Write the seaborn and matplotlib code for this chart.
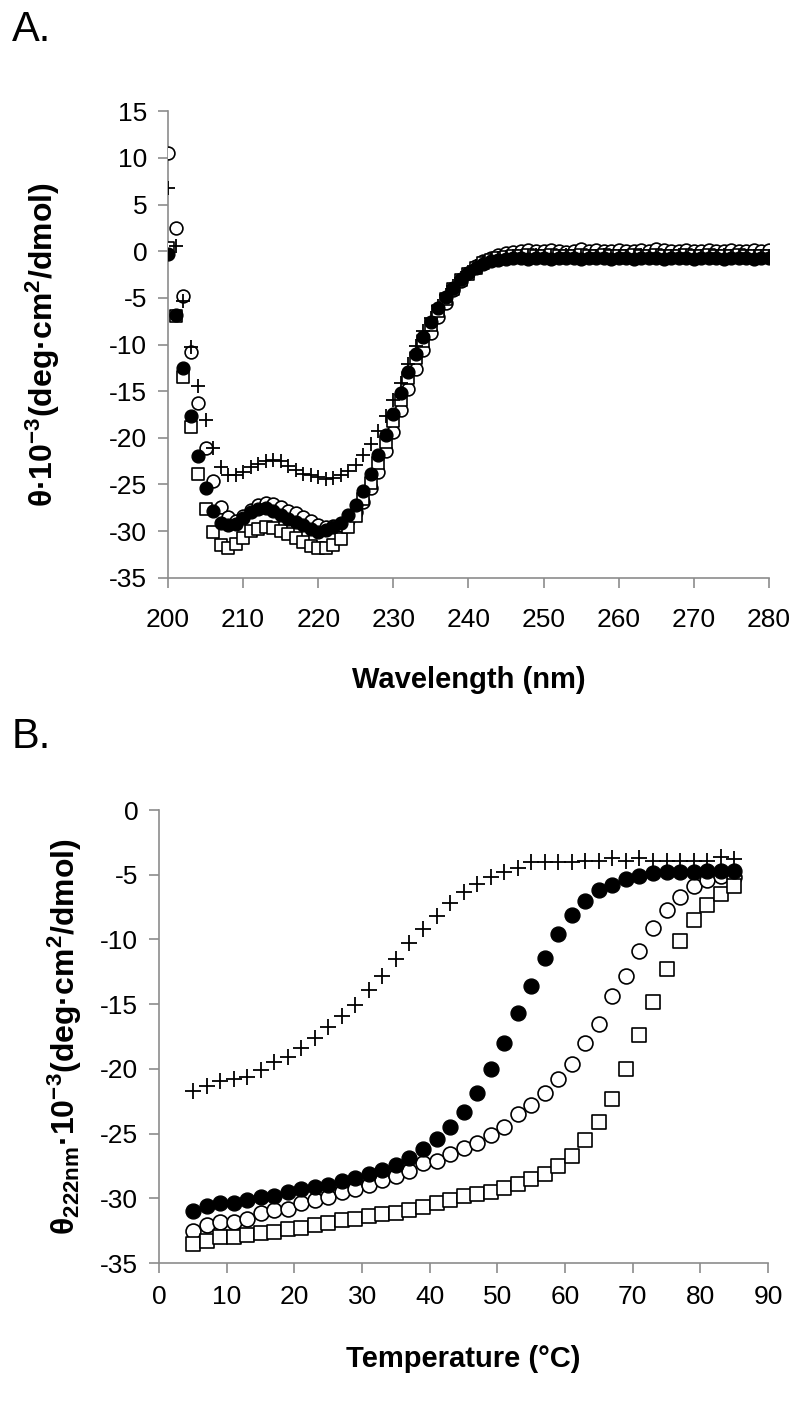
import matplotlib
matplotlib.use('Agg')
import matplotlib.pyplot as plt
import seaborn as sns

# ---- panel A: CD spectra ----
wavelength = list(range(200, 281))

spec_filled = [-0.3, -6.8, -12.5, -17.7, -22.0, -25.4, -27.8, -29.1, -29.4, -29.2,
               -28.6, -28.0, -27.6, -27.5, -27.8, -28.3, -28.7, -29.0, -29.4, -29.8,
               -30.1, -29.9, -29.6, -29.1, -28.3, -27.2, -25.7, -23.9, -21.9, -19.7,
               -17.5, -15.2, -13.0, -11.0, -9.2, -7.6, -6.1, -4.9, -3.9, -3.0,
               -2.3, -1.8, -1.4, -1.1, -0.9, -0.8, -0.7, -0.7, -0.8, -0.7,
               -0.7, -0.8, -0.7, -0.7, -0.7, -0.8, -0.7, -0.7, -0.7, -0.8,
               -0.7, -0.7, -0.8, -0.7, -0.7, -0.7, -0.8, -0.7, -0.7, -0.7,
               -0.8, -0.7, -0.7, -0.7, -0.8, -0.7, -0.7, -0.7, -0.8, -0.7, -0.7]
spec_open = [10.5, 2.5, -4.8, -10.8, -16.3, -21.1, -24.6, -27.4, -28.5, -28.9,
             -28.4, -27.7, -27.2, -27.0, -27.1, -27.4, -27.8, -28.1, -28.5, -28.9,
             -29.4, -29.6, -29.5, -29.3, -28.8, -28.0, -26.9, -25.4, -23.7, -21.4,
             -19.4, -17.0, -14.8, -12.6, -10.6, -8.8, -7.1, -5.5, -4.2, -3.2,
             -2.3, -1.6, -1.1, -0.7, -0.4, -0.2, -0.1, 0.0, 0.1, 0.0,
             0.0, 0.1, 0.0, -0.1, 0.0, 0.2, 0.0, 0.1, 0.0, 0.0,
             0.1, 0.0, 0.0, 0.1, 0.0, 0.2, 0.1, 0.0, 0.0, 0.1,
             0.0, 0.0, 0.1, 0.0, 0.0, 0.1, 0.0, 0.0, 0.1, 0.0, 0.1]
spec_square = [0.3, -6.9, -13.5, -18.8, -23.9, -27.6, -30.1, -31.5, -31.8, -31.4,
               -30.7, -30.0, -29.8, -29.6, -29.7, -30.0, -30.3, -30.7, -31.2, -31.6,
               -31.8, -31.8, -31.5, -30.8, -29.6, -28.4, -26.6, -24.8, -22.7, -20.5,
               -18.2, -15.9, -13.6, -11.5, -9.6, -7.9, -6.4, -5.1, -4.0, -3.1,
               -2.4, -1.8, -1.3, -0.9, -0.7, -0.6, -0.5, -0.5, -0.4, -0.5,
               -0.5, -0.4, -0.5, -0.5, -0.5, -0.4, -0.5, -0.5, -0.4, -0.5,
               -0.5, -0.5, -0.4, -0.5, -0.5, -0.4, -0.5, -0.5, -0.5, -0.4,
               -0.5, -0.5, -0.4, -0.5, -0.5, -0.5, -0.4, -0.5, -0.5, -0.5, -0.5]
spec_plus = [6.8, 0.6, -5.3, -10.3, -14.5, -18.1, -21.1, -23.1, -24.0, -24.0,
             -23.7, -23.1, -22.8, -22.5, -22.4, -22.5, -23.0, -23.5, -23.9, -24.0,
             -24.2, -24.4, -24.3, -24.0, -23.6, -22.9, -21.9, -20.7, -19.3, -17.7,
             -15.9, -14.1, -12.1, -10.2, -8.6, -7.2, -5.9, -4.7, -3.7, -2.9,
             -2.2, -1.6, -1.2, -0.9, -0.7, -0.6, -0.5, -0.5, -0.5, -0.4,
             -0.5, -0.5, -0.5, -0.4, -0.5, -0.5, -0.5, -0.5, -0.4, -0.5,
             -0.5, -0.5, -0.5, -0.4, -0.5, -0.5, -0.5, -0.5, -0.4, -0.5,
             -0.5, -0.5, -0.5, -0.5, -0.4, -0.5, -0.5, -0.5, -0.5, -0.5, -0.5]

# ---- panel B: thermal melts at 222 nm ----
temperature = list(range(5, 86, 2))

melt_plus = [-21.7, -21.3, -20.9, -20.8, -20.6, -20.1, -19.5, -19.1, -18.4, -17.6,
             -16.8, -15.9, -15.1, -13.9, -12.8, -11.5, -10.3, -9.2, -8.2, -7.2,
             -6.3, -5.7, -5.2, -4.8, -4.5, -4.0, -4.0, -4.0, -4.0, -3.9,
             -3.9, -3.7, -3.9, -3.7, -3.9, -3.9, -3.9, -3.9, -3.9, -3.6, -3.8]
melt_filled = [-31.0, -30.6, -30.4, -30.4, -30.1, -29.9, -29.8, -29.5, -29.3, -29.1,
               -29.0, -28.7, -28.4, -28.1, -27.8, -27.4, -26.9, -26.2, -25.4, -24.5,
               -23.3, -21.9, -20.0, -18.0, -15.7, -13.6, -11.4, -9.6, -8.1, -7.0,
               -6.2, -5.8, -5.3, -5.1, -4.9, -4.8, -4.8, -4.8, -4.7, -4.7, -4.7]
melt_open = [-32.5, -32.1, -31.8, -31.8, -31.6, -31.1, -30.9, -30.8, -30.4, -30.1,
             -29.9, -29.5, -29.3, -29.0, -28.6, -28.3, -27.9, -27.3, -27.1, -26.6,
             -26.1, -25.7, -25.1, -24.5, -23.5, -22.8, -21.9, -20.8, -19.6, -18.0,
             -16.5, -14.4, -12.8, -10.9, -9.1, -7.7, -6.7, -5.9, -5.4, -5.1, -5.2]
melt_square = [-33.5, -33.3, -33.0, -33.0, -32.8, -32.7, -32.6, -32.4, -32.3, -32.1,
               -31.9, -31.7, -31.6, -31.4, -31.2, -31.1, -30.9, -30.7, -30.4, -30.1,
               -29.8, -29.7, -29.5, -29.2, -28.9, -28.5, -28.1, -27.5, -26.7, -25.5,
               -24.1, -22.3, -20.0, -17.4, -14.8, -12.3, -10.1, -8.5, -7.3, -6.5, -5.9]

sns.set_style('white')
plt.rcParams['font.family'] = ['Liberation Sans', 'DejaVu Sans']
plt.rcParams['mathtext.default'] = 'regular'
plt.rcParams['axes.unicode_minus'] = False
plt.rcParams['text.color'] = 'black'
plt.rcParams['axes.labelcolor'] = 'black'
plt.rcParams['xtick.labelcolor'] = 'black'
plt.rcParams['ytick.labelcolor'] = 'black'

fig = plt.figure(figsize=(8.0, 14.09), dpi=100)
ax_a = fig.add_axes([0.21, 0.59, 0.751, 0.331])
ax_b = fig.add_axes([0.199, 0.1036, 0.761, 0.3215])


def draw_series(ax, x, y_open, y_square, y_plus, y_filled, size):
    sns.scatterplot(x=x, y=y_open, marker='o', s=size, facecolor='white',
                    edgecolor='black', linewidth=1.2, ax=ax, zorder=3)
    sns.scatterplot(x=x, y=y_square, marker='s', s=size * 0.9, facecolor='white',
                    edgecolor='black', linewidth=1.2, ax=ax, zorder=3)
    sns.scatterplot(x=x, y=y_plus, marker='+', s=size * 1.3, color='black',
                    linewidth=1.3, ax=ax, zorder=4)
    sns.scatterplot(x=x, y=y_filled, marker='o', s=size, color='black',
                    edgecolor='black', linewidth=1.0, ax=ax, zorder=5)


def style_axes(ax, xpad):
    sns.despine(ax=ax)
    for side in ['left', 'bottom']:
        ax.spines[side].set_color('#8c8c8c')
        ax.spines[side].set_linewidth(1.2)
    ax.tick_params(axis='both', which='major', direction='out', length=7,
                   width=1.2, color='#8c8c8c', labelsize=19, pad=8,
                   left=True, bottom=True)
    ax.tick_params(axis='x', pad=xpad)


draw_series(ax_a, wavelength, spec_open, spec_square, spec_plus, spec_filled, 85)
ax_a.set_xlim(200, 280)
ax_a.set_ylim(-35, 15)
ax_a.set_xticks(range(200, 281, 10))
ax_a.set_yticks(range(-35, 16, 5))
style_axes(ax_a, 15)
ax_a.set_xlabel('Wavelength (nm)', fontsize=21, fontweight='bold', labelpad=24)
ax_a.set_ylabel('θ·10$^{-3}$(deg·cm$^{2}$/dmol)', fontsize=23,
                fontweight='bold', labelpad=34)

draw_series(ax_b, temperature, melt_open, melt_square, melt_plus, melt_filled, 115)
ax_b.set_xlim(0, 90)
ax_b.set_ylim(-35, 0)
ax_b.set_xticks(range(0, 91, 10))
ax_b.set_yticks(range(-35, 1, 5))
style_axes(ax_b, 9)
ax_b.set_xlabel('Temperature (°C)', fontsize=21, fontweight='bold', labelpad=26)
ax_b.set_ylabel('θ$_{222nm}$·10$^{-3}$(deg·cm$^{2}$/dmol)', fontsize=23,
                fontweight='bold', labelpad=12)

fig.text(0.015, 0.979, 'A.', fontsize=30, va='center', ha='left')
fig.text(0.015, 0.477, 'B.', fontsize=30, va='center', ha='left')

fig.savefig('out.png', dpi=100)
